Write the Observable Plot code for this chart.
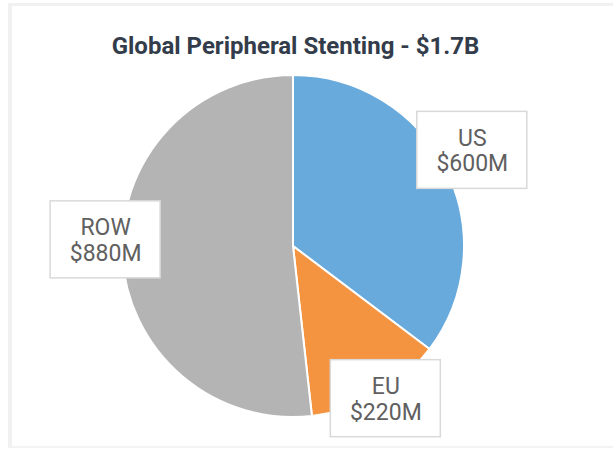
<!DOCTYPE html>
<html>
<head>
<meta charset="utf-8">
<script src="https://cdn.jsdelivr.net/npm/d3@7"></script>
<script src="https://cdn.jsdelivr.net/npm/@observablehq/plot@0.6"></script>
<style>
  html, body { margin: 0; padding: 0; background: #fff; }
  #frame { position: absolute; left: 8px; top: 3px; width: 640px; height: 445px;
           border-left: 4px solid #f1f1f1; border-top: 3px solid #f1f1f1; border-bottom: 2px solid #f3f3f3;
           box-sizing: border-box; }
  #chart { position: absolute; left: 0; top: 0; }
</style>
</head>
<body>
<div id="frame"></div>
<div id="chart"></div>
<script>
// ---- data ----
const title = "Global Peripheral Stenting - $1.7B";
const regions = ["US", "EU", "ROW"];
const values = [600, 220, 880];           // $M
const valueLabels = ["$600M", "$220M", "$880M"];

// ---- styles / layout ----
const colors = ["#68aadc", "#f49340", "#b4b4b4"];
const W = 613, H = 449;
const CX = 293, CY = 246, R = 171;        // pie centre and radius (px units)
const labelRadius = [203, 178, 188];      // distance of label box centre from pie centre
const labelAngleShift = [-1.8, -1.6, 5.2];// degrees, relative to slice mid-angle
const boxW = 110, boxH = 77;

const data = regions.map((r, i) => ({region: r, value: values[i], label: valueLabels[i], color: colors[i]}));
const arcs = d3.pie().sort(null).value(d => d.value)(data);

// label box centres along each slice's (shifted) mid-angle
const labels = arcs.map((a, i) => {
  const ang = (a.startAngle + a.endAngle) / 2 + labelAngleShift[i] * Math.PI / 180;
  return {
    x: CX + labelRadius[i] * Math.sin(ang),
    y: CY - labelRadius[i] * Math.cos(ang),
    text: `${a.data.region}\n${a.data.label}`
  };
});

// custom pie mark drawn with Plot's scales
const pieMark = (index, scales) => {
  const cx = scales.x(CX), cy = scales.y(CY);
  const r = scales.x(CX + R) - cx;
  const arc = d3.arc().innerRadius(0).outerRadius(r);
  const g = d3.create("svg:g").attr("transform", `translate(${cx},${cy})`);
  g.selectAll("path").data(arcs).join("path")
    .attr("d", arc)
    .attr("fill", d => d.data.color)
    .attr("stroke", "#ffffff")
    .attr("stroke-width", 2)
    .attr("stroke-linejoin", "round");
  return g.node();
};

const chart = Plot.plot({
  width: W, height: H,
  margin: 0,
  style: {background: "transparent", overflow: "visible"},
  x: {domain: [0, W], range: [0, W], axis: null},
  y: {domain: [0, H], range: [0, H], axis: null},
  marks: [
    pieMark,
    Plot.rect(labels, {
      x1: d => d.x - boxW / 2, x2: d => d.x + boxW / 2,
      y1: d => d.y - boxH / 2, y2: d => d.y + boxH / 2,
      fill: "#ffffff", stroke: "#d9d9d9", strokeWidth: 1.5
    }),
    Plot.text(labels, {
      x: "x", y: "y", text: "text",
      fontFamily: "Roboto, 'Open Sans', sans-serif", fontSize: 23,
      lineHeight: 1.12, fill: "#606060", textAnchor: "middle", lineAnchor: "middle"
    }),
    Plot.text([title], {
      x: () => 295, y: () => 46, text: d => d,
      fontFamily: "Roboto, 'Open Sans', sans-serif", fontSize: 24, fontWeight: "bold",
      fill: "#333c4a", textAnchor: "middle", lineAnchor: "middle"
    })
  ]
});
document.getElementById("chart").appendChild(chart);
</script>
</body>
</html>
